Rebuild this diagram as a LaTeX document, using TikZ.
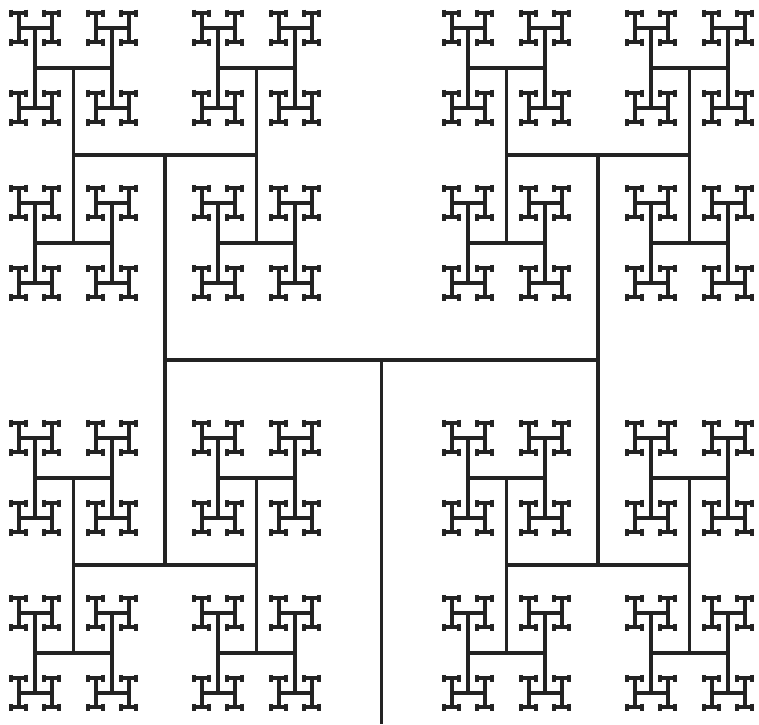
\documentclass[tikz,border=0pt]{standalone}
\definecolor{inchiostro}{RGB}{35,35,35}
%semilunghezze dei tratti orizzontali e verticali per livello
\def\semiO{{216.5,91.5,38.5,16.5,7.5}}
\def\semiV{{205,87.5,40,14.5,3.5}}
%spessore dei tratti per livello
\def\spessore{{3.8,3.9,4,4,4.4}}
%una H centrata in (#1,#2) al livello #3, poi le H ai quattro estremi
\newcommand{\acca}[3]{%
  \pgfmathsetmacro{\cx}{#1}%
  \pgfmathsetmacro{\cy}{#2}%
  \pgfmathsetmacro{\sa}{\semiO[#3]}%
  \pgfmathsetmacro{\sb}{\semiV[#3]}%
  \pgfmathsetmacro{\lw}{\spessore[#3]}%
  \draw[ramo, line width=\lw pt] (\cx-\sa,\cy) -- (\cx+\sa,\cy);
  \draw[ramo, line width=\lw pt] (\cx-\sa,\cy-\sb) -- (\cx-\sa,\cy+\sb);
  \draw[ramo, line width=\lw pt] (\cx+\sa,\cy-\sb) -- (\cx+\sa,\cy+\sb);
  \ifnum#3<4
    \pgfmathtruncatemacro{\liv}{#3+1}%
    \foreach \sx in {-1,1}{%
      \foreach \sy in {-1,1}{%
        \pgfmathsetmacro{\nx}{\cx+\sx*\sa}%
        \pgfmathsetmacro{\ny}{\cy+\sy*\sb}%
        \acca{\nx}{\ny}{\liv}%
      }%
    }%
  \fi
}
\begin{document}
\begin{tikzpicture}
        [x=1pt, y=-1pt, ramo/.style={line width=3.8pt, color=inchiostro}]
        \useasboundingbox (0,0) rectangle (759,724);
        %disegno tronco
            \draw[ramo] (381.5,360) -- (381.5,724);
        %disegno albero
            \acca{381.5}{360}{0}
\end{tikzpicture}
\end{document}
